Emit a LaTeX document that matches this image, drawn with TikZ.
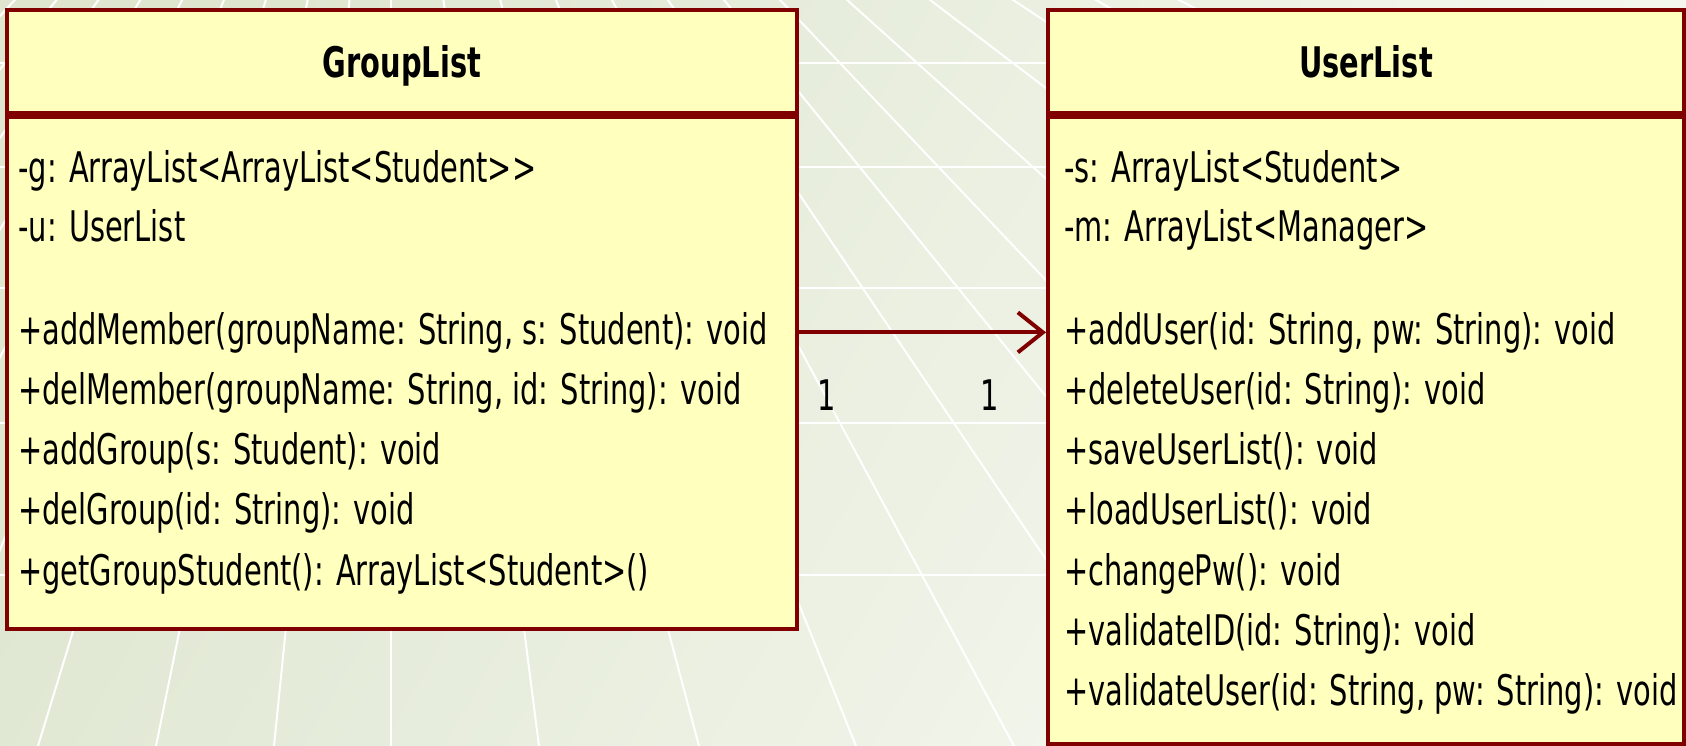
\documentclass[tikz,border=0pt]{standalone}
\usepackage{fontspec}
\setmainfont{DejaVu Sans}[FakeStretch=0.685]
\usepackage{xcolor}
\usetikzlibrary{arrows.meta, positioning}
\definecolor{umlred}{RGB}{128,0,0}
\definecolor{umlfill}{RGB}{255,255,190}
\definecolor{bgdark}{RGB}{222,230,208}
\definecolor{bglight}{RGB}{247,249,242}
\tikzset{every picture/.style={x=0.02cm, y=-0.02cm, every node/.style={font=\fontsize{24}{29}\selectfont}},
  classbox/.style={draw=umlred, fill=umlfill, line width=0.08cm, inner sep=0pt},
  classname/.style={font=\fontsize{24}{29}\selectfont\bfseries, inner sep=0pt, anchor=base},
  member/.style={inner sep=0pt, anchor=base west},
  mult/.style={inner sep=0pt, anchor=base},
  assoc/.style={draw=umlred, line width=0.08cm, -{Straight Barb[length=0.5cm, width=0.8cm]}},
  gridline/.style={draw=white, line width=0.04cm}}

\begin{document}
\begin{tikzpicture}
        \shade[top color=bgdark, bottom color=bglight, shading angle=60] (0,0) rectangle (1686,746);
        \useasboundingbox (0,0) rectangle (1686,746);

        \begin{scope}
          \clip (0,0) rectangle (1686,746);
          \coordinate (vp) at (391,-410);
          \foreach \y in {63, 167, 288, 423, 575}
          \draw[gridline] (0,\y) -- (1686,\y);
          \foreach \b in {-906,-788,-670,-552,-434,-316,-198,-80,38,156,274,391,539,699,856,1014,1172,1330,1488,1677,1911,2145,2379,2613}
          \draw[gridline] (vp) -- (\b,746);
        \end{scope}

        \node[classbox, minimum width=15.8cm, minimum height=2.06cm] (glhead) at (402,61.5) {};
        \node[classbox, minimum width=15.8cm, minimum height=10.24cm, below=0pt of glhead] (glbody) {};
        \node[classbox, minimum width=12.72cm, minimum height=2.06cm] (ulhead) at (1366,61.5) {};
        \node[classbox, minimum width=12.72cm, minimum height=12.54cm, below=0pt of ulhead] (ulbody) {};

        \node[classname] (glname) at (402,78) {GroupList};
        \node[classname] (ulname) at (1366,78) {UserList};

        \foreach \txt [count=\i] in {{-g: ArrayList<ArrayList<Student>{}>}, {-u: UserList}}
        \node[member] (gla\i) at (18,{183+59*(\i-1)}) {\txt};
        \foreach \txt [count=\i] in {{+addMember(groupName: String, s: Student): void},
          {+delMember(groupName: String, id: String): void},
          {+addGroup(s: Student): void},
          {+delGroup(id: String): void},
          {+getGroupStudent(): ArrayList<Student>()}}
        \node[member] (glm\i) at (18,{344+60.3*(\i-1)}) {\txt};

        \foreach \txt [count=\i] in {{-s: ArrayList<Student>}, {-m: ArrayList<Manager>}}
        \node[member] (ula\i) at (1064,{183+59*(\i-1)}) {\txt};
        \foreach \txt [count=\i] in {{+addUser(id: String, pw: String): void},
          {+deleteUser(id: String): void},
          {+saveUserList(): void},
          {+loadUserList(): void},
          {+changePw(): void},
          {+validateID(id: String): void},
          {+validateUser(id: String, pw: String): void}}
        \node[member] (ulm\i) at (1064,{344+60.3*(\i-1)}) {\txt};

        \draw[assoc] (glbody.east |- glm1) -- (ulbody.west |- glm1);
        \node[mult] (m1) at (827,410) {1};
        \node[mult] (m2) at (990,410) {1};
      \end{tikzpicture}
\end{document}
